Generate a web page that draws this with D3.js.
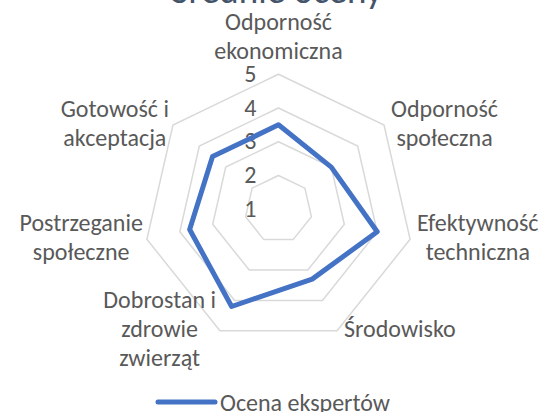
<!DOCTYPE html>
<html>
<head>
<meta charset="utf-8">
<script src="https://cdn.jsdelivr.net/npm/d3@7"></script>
<style>
  body { margin: 0; background: #fff; }
  svg { display: block; font-family: Carlito, Calibri, Lato, sans-serif; }
</style>
</head>
<body>
<div id="chart"></div>
<script>
const TITLE = "Średnie oceny";
const SERIES_NAME = "Ocena ekspertów";
const categories = [
  ["Odporność", "ekonomiczna"],
  ["Odporność", "społeczna"],
  ["Efektywność", "techniczna"],
  ["Środowisko"],
  ["Dobrostan i", "zdrowie", "zwierząt"],
  ["Postrzeganie", "społeczne"],
  ["Gotowość i", "akceptacja"]
];
const values = [3.5, 3.0, 4.0, 3.3, 4.2, 3.7, 3.5];
const ticks = [1, 2, 3, 4, 5];

var width = 544, height = 412;
var cx = 278.5, cy = 209.2, radius = 135;
var labelColor = "#595959";
var lineHeight = 29;

var svg = d3.select("#chart").append("svg")
  .attr("width", width)
  .attr("height", height);

var r = d3.scaleLinear().domain([1, 5]).range([0, radius]);
var angle = d3.scaleLinear().domain([0, categories.length]).range([0, 2 * Math.PI]);

function point(i, v) {
  var a = angle(i);
  return [cx + r(v) * Math.sin(a), cy - r(v) * Math.cos(a)];
}

// title (mostly above the visible area)
svg.append("text")
  .attr("x", 277)
  .attr("y", 3)
  .attr("text-anchor", "middle")
  .attr("font-size", 37)
  .attr("fill", "#44546A")
  .text(TITLE);

// grid rings
var g = svg.append("g");
ticks.slice(1).forEach(function (t) {
  var pts = categories.map(function (c, i) { return point(i, t); });
  g.append("polygon")
    .attr("points", pts.map(function (p) { return p.join(","); }).join(" "))
    .attr("fill", "none")
    .attr("stroke", "#d9d9d9")
    .attr("stroke-width", 1.5);
});

// tick labels along the top axis
ticks.forEach(function (t) {
  svg.append("text")
    .attr("x", cx - 22)
    .attr("y", cy - r(t) + 2)
    .attr("text-anchor", "end")
    .attr("dominant-baseline", "middle")
    .attr("font-size", 24)
    .attr("fill", labelColor)
    .text(t);
});

// data line
var line = d3.line()
  .x(function (d, i) { return point(i, d)[0]; })
  .y(function (d, i) { return point(i, d)[1]; })
  .curve(d3.curveLinearClosed);

svg.append("path")
  .datum(values)
  .attr("d", line)
  .attr("fill", "none")
  .attr("stroke", "#4472C4")
  .attr("stroke-width", 5)
  .attr("stroke-linejoin", "round");

// category labels
categories.forEach(function (lines, i) {
  var vtx = point(i, 5);
  var a = angle(i);
  var t = svg.append("text")
    .attr("text-anchor", "middle")
    .attr("font-size", 24)
    .attr("fill", labelColor);
  lines.forEach(function (s, k) {
    t.append("tspan").attr("x", 0).attr("y", k * lineHeight).text(s);
  });
  var w = t.node().getBBox().width;
  var blockH = (lines.length - 1) * lineHeight;
  var sx = Math.sin(a), bx, by;
  if (Math.abs(sx) < 0.01) {
    bx = vtx[0];
    by = vtx[1] - 36;
  } else if (sx > 0) {
    bx = vtx[0] + 7 + w / 2;
    by = vtx[1];
  } else {
    bx = vtx[0] - 4 - w / 2;
    by = vtx[1];
  }
  t.attr("dominant-baseline", "middle")
    .attr("transform", "translate(" + bx + "," + (by - blockH / 2) + ")");
});

// legend
var legend = svg.append("g").attr("transform", "translate(158,402)");
legend.append("line")
  .attr("x1", 0).attr("x2", 57)
  .attr("y1", 0).attr("y2", 0)
  .attr("stroke", "#4472C4")
  .attr("stroke-width", 5)
  .attr("stroke-linecap", "round");
legend.append("text")
  .attr("x", 62)
  .attr("y", 3)
  .attr("dominant-baseline", "middle")
  .attr("font-size", 24)
  .attr("fill", labelColor)
  .text(SERIES_NAME);
</script>
</body>
</html>
